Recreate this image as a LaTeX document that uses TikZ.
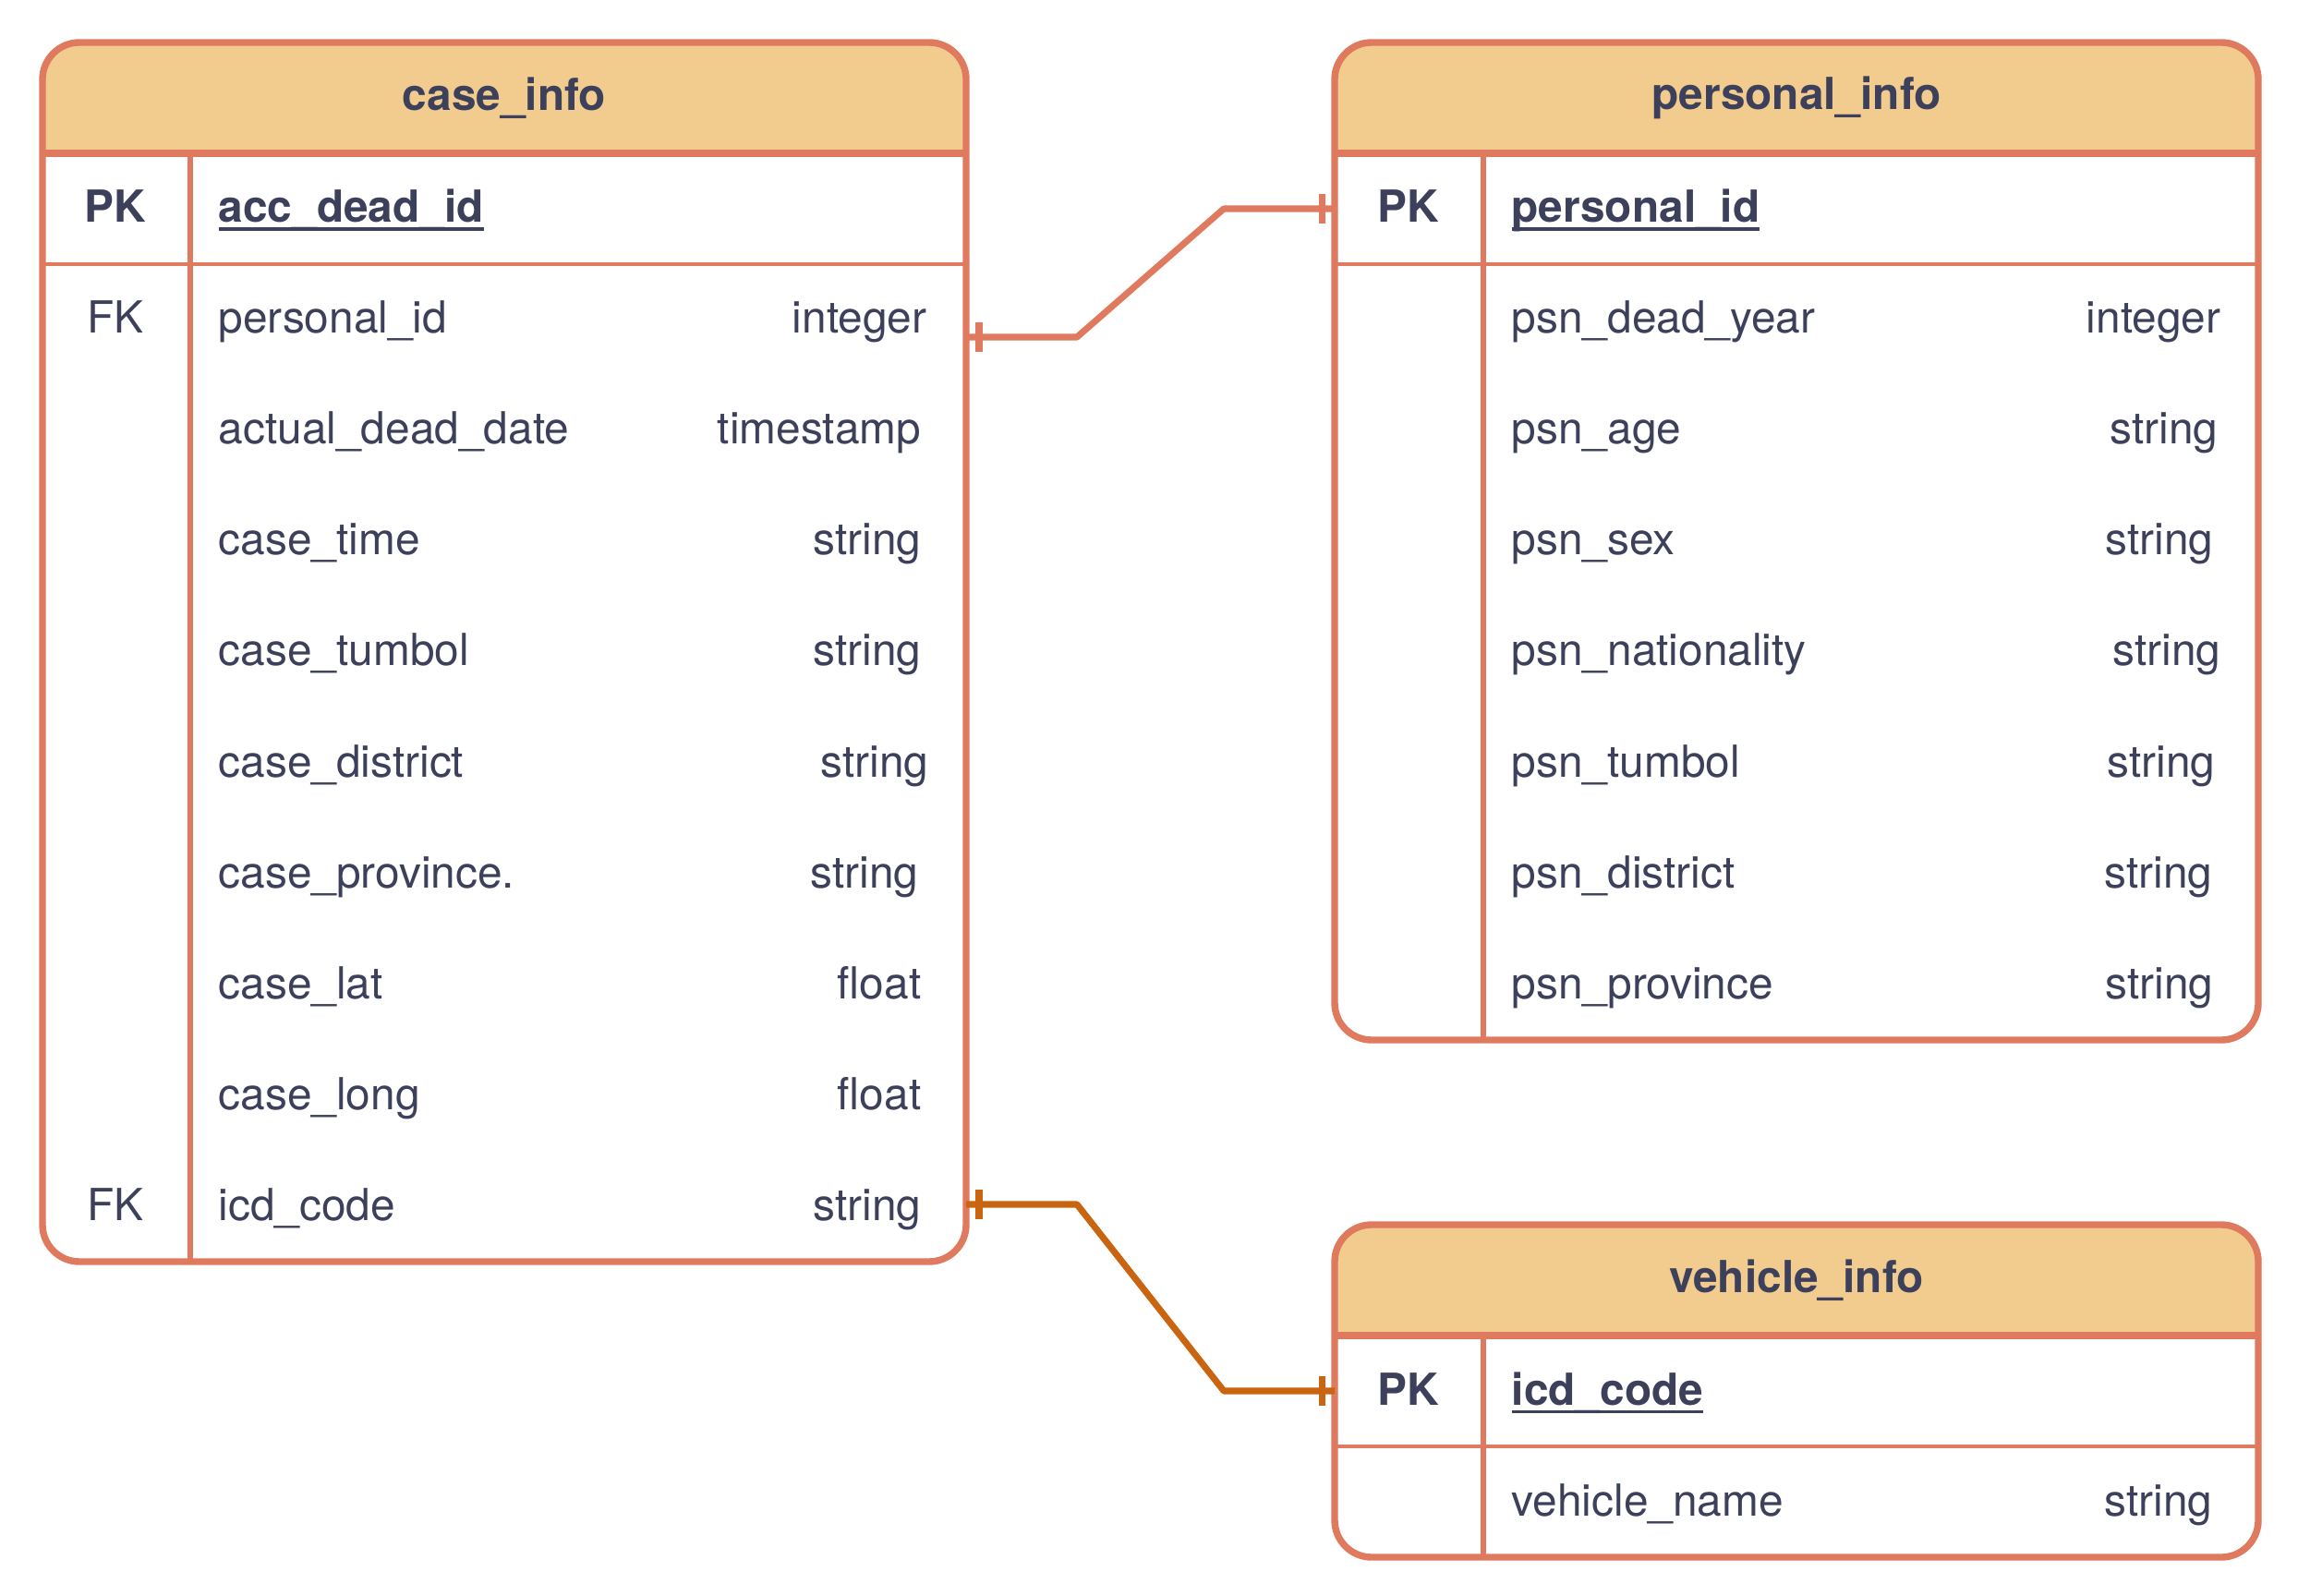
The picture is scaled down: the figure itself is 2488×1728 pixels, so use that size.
\documentclass[tikz,border=0pt]{standalone}
\usepackage{fontspec}
\setmainfont{TeX Gyre Heros}
\usetikzlibrary{calc,fit}
\definecolor{bord}{HTML}{E07A5F}
\definecolor{hdr}{HTML}{F2CC8F}
\definecolor{ink}{HTML}{3D405B}
\definecolor{linkc}{HTML}{C96410}
\newcommand{\fs}{\fontsize{13.6}{16}\selectfont}
\newcommand{\ul}[1]{\setbox0=\hbox{#1}\rlap{\rule[-0.19em]{\wd0}{0.075em}}\box0}
\tikzset{
  every node/.style={text=ink, inner sep=0pt, font=\fs},
  tbox/.style={draw=bord, line width=2.1pt, rounded corners=0.4cm, inner sep=0pt, outer sep=0pt},
  hline/.style={draw=bord, line width=2.1pt},
  sline/.style={draw=bord, line width=1.1pt},
  vline/.style={draw=bord, line width=1.8pt},
  ttl/.style={font=\fs\bfseries, anchor=center},
  keyc/.style={anchor=base},
  pkkey/.style={anchor=base, font=\fs\bfseries},
  pkname/.style={anchor=base west, font=\fs\bfseries},
  fname/.style={anchor=base west},
  ftype/.style={anchor=base east},
  conn/.style={draw=bord, line width=2pt, line join=round},
  conn2/.style={draw=linkc, line width=2pt, line join=round},
}
% #1 name, #2 L, #3 T, #4 R, #5 B, #6 divider x, #7 title
\newcommand{\ertab}[7]{%
  \begin{scope}
    \clip[rounded corners=0.4cm] (#2,#3) rectangle (#4,#5);
    \fill[hdr] (#2,#3) rectangle (#4,{#3+120});
  \end{scope}
  \draw[hline] (#2,{#3+120}) -- (#4,{#3+120});
  \draw[sline] (#2,{#3+240}) -- (#4,{#3+240});
  \draw[vline] (#6,{#3+120}) -- (#6,#5);
  \node[tbox, fit={(#2,#3) (#4,#5)}] (#1) {};
  \node[ttl] (#1-t) at ({(#2+#4)/2},{#3+60}) {#7};
}
\begin{document}
\begin{tikzpicture}[x=0.01cm,y=-0.01cm]
\path[use as bounding box, fill=white] (0,0) rectangle (2488,1728);

% ---------- case_info ----------
\ertab{ci}{46}{46}{1046}{1366}{206}{case\_info}
\node[pkkey] (ci-pk) at (125,241) {PK};
\node[pkname] (ci-pkn) at (236,241) {\ul{acc\_dead\_id}};
\foreach \i/\k/\n/\t/\tx in {
  1/FK/personal\_id/integer/1004,
  2//actual\_dead\_date/timestamp/998,
  3//case\_time/string/998,
  4//case\_tumbol/string/998,
  5//case\_district/string/1006,
  6//case\_province./string/995,
  7//case\_lat/float/998,
  8//case\_long/float/998,
  9/FK/icd\_code/string/998}{
  \node[keyc] (ci-k\i) at (125,{361+120*(\i-1)}) {\k};
  \node[fname] (ci-n\i) at (236,{361+120*(\i-1)}) {\n};
  \node[ftype] (ci-t\i) at (\tx,{361+120*(\i-1)}) {\t};
}

% ---------- personal_info ----------
\ertab{pi}{1445}{46}{2445}{1126}{1606}{personal\_info}
\node[pkkey] (pi-pk) at (1525,241) {PK};
\node[pkname] (pi-pkn) at (1636,241) {\ul{personal\_id}};
\foreach \i/\n/\t/\tx in {
  1/psn\_dead\_year/integer/2405,
  2/psn\_age/string/2402,
  3/psn\_sex/string/2397,
  4/psn\_nationality/string/2405,
  5/psn\_tumbol/string/2399,
  6/psn\_district/string/2396,
  7/psn\_province/string/2397}{
  \node[fname] (pi-n\i) at (1636,{361+120*(\i-1)}) {\n};
  \node[ftype] (pi-t\i) at (\tx,{361+120*(\i-1)}) {\t};
}

% ---------- vehicle_info ----------
\ertab{vi}{1445}{1326}{2445}{1686}{1606}{vehicle\_info}
\node[pkkey] (vi-pk) at (1525,1521) {PK};
\node[pkname] (vi-pkn) at (1636,1521) {\ul{icd\_code}};
\node[fname] (vi-n1) at (1636,1641) {vehicle\_name};
\node[ftype] (vi-t1) at (2396,1641) {string};

% ---------- connectors ----------
\coordinate (y1s) at (0,365);
\coordinate (y1e) at (0,226);
\coordinate (y2s) at (0,1304);
\coordinate (y2e) at (0,1506);
\coordinate (c1s) at (ci.east |- y1s);
\coordinate (c1e) at (pi.west |- y1e);
\coordinate (c2s) at (ci.east |- y2s);
\coordinate (c2e) at (vi.west |- y2e);

\draw[conn] (c1s) -- ++(120,0) -- ($(c1e)+(-120,0)$) -- (c1e);
\draw[conn] ($(c1s)+(14,-16)$) -- ($(c1s)+(14,16)$);
\draw[conn] ($(c1e)+(-14,-16)$) -- ($(c1e)+(-14,16)$);

\draw[conn2] (c2s) -- ++(120,0) -- ($(c2e)+(-120,0)$) -- (c2e);
\draw[conn2] ($(c2s)+(14,-16)$) -- ($(c2s)+(14,16)$);
\draw[conn2] ($(c2e)+(-14,-16)$) -- ($(c2e)+(-14,16)$);
\end{tikzpicture}
\end{document}
